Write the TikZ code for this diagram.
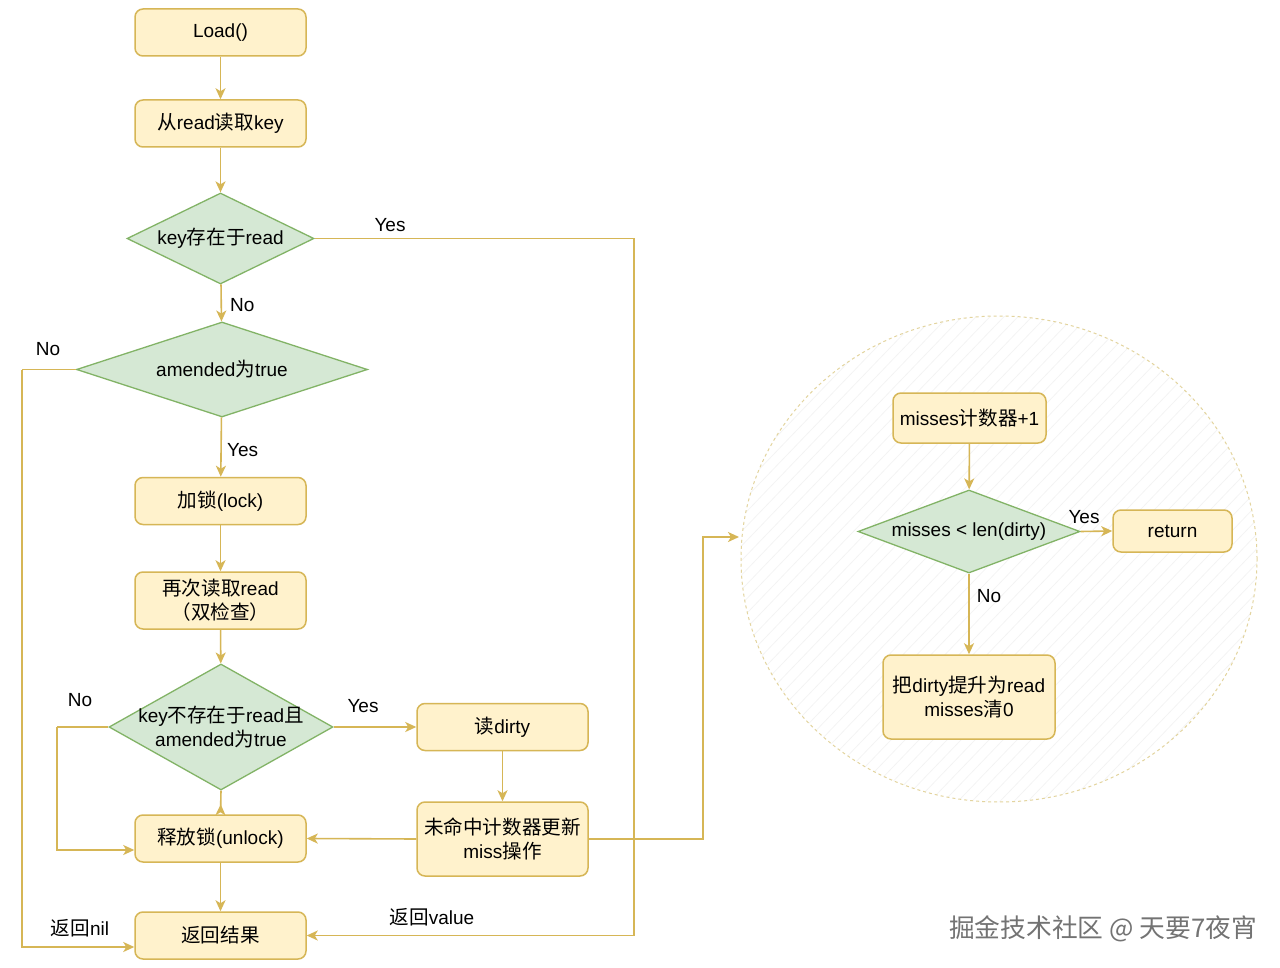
\documentclass[tikz,border=0pt]{standalone}
\usepackage{fontspec}
\setmainfont{Liberation Sans}
\newfontfamily\cjkf{Noto Sans CJK SC}[Scale=1.03]
\newcommand\C[1]{{\cjkf #1}}
\usetikzlibrary{arrows.meta,shapes.geometric}
\definecolor{boxfill}{HTML}{FFF2CC}
\definecolor{boxline}{HTML}{D6B656}
\definecolor{dfill}{HTML}{D5E8D4}
\definecolor{dline}{HTML}{82B366}
\definecolor{edgec}{HTML}{D6B656}
\definecolor{circline}{HTML}{E3D49E}
\begin{document}
\begin{tikzpicture}[x=1pt,y=-1pt,
  font=\fontsize{19}{24}\selectfont,
  box/.style={draw=boxline, fill=boxfill, line width=1.5pt, rounded corners=8pt,
    minimum width=171pt, minimum height=47pt, inner sep=0pt, align=center},
  dia/.style={draw=dline, fill=dfill, line width=1.3pt, diamond, inner sep=0pt, aspect=1},
  edge/.style={draw=edgec, line width=1.6pt, -{Stealth[length=11pt,width=10pt,inset=3pt]}},
  plain/.style={draw=edgec, line width=1.6pt},
  lbl/.style={inner sep=1pt, text=black}
]
\useasboundingbox (0,0) rectangle (1280,968);
\fill[white] (0,0) rectangle (1280,968);

% dashed circle with faint hatching
\begin{scope}
  \clip (999,559) ellipse [x radius=258, y radius=243];
  \foreach \i in {0,14,...,1100} {
    \draw[black!5, line width=0.6pt] (100+\i,820) -- (600+\i,300);
  }
\end{scope}
\node[ellipse, draw=circline, dashed, line width=1pt, minimum width=516pt, minimum height=486pt] (circ) at (999,559) {};

% main column
\node[box] (load) at (220.5,32.5) {Load()};
\node[box] (rd) at (220.5,123.5) {\C{从}read\C{读取}key};
\node[dia, minimum width=187pt, minimum height=91pt,
  label={center:{key\C{存在于}read}}] (d1) at (220.5,238.5) {};
\node[dia, minimum width=291pt, minimum height=95pt,
  label={center:{amended\C{为}true}}] (d2) at (222,369.5) {};
\node[box] (lock) at (220.5,501) {\C{加锁}(lock)};
\node[box, minimum height=57pt] (reread) at (220.5,600.5) {\C{再次读取}read\\\C{（双检查）}};
\node[dia, minimum width=224pt, minimum height=126pt,
  label={[align=center]center:{key\C{不存在于}read\C{且}\\amended\C{为}true}}] (d3) at (221,727) {};
\node[box] (dirty) at (502.5,727) {\C{读}dirty};
\node[box, minimum height=74pt] (miss) at (502.5,839) {\C{未命中计数器更新}\\miss\C{操作}};
\node[box] (unlock) at (220.5,838.5) {\C{释放锁}(unlock)};
\node[box] (res) at (220.5,935.5) {\C{返回结果}};

% circle content
\node[box, minimum width=153pt, minimum height=50pt] (m1) at (969.5,418) {misses\C{计数器}+1};
\node[dia, minimum width=222pt, minimum height=83pt,
  label={center:{misses < len(dirty)}}] (dm) at (969,531.5) {};
\node[box, minimum width=119pt, minimum height=42pt] (ret) at (1172.5,531) {return};
\node[box, minimum width=172pt, minimum height=84pt] (prom) at (969,697) {\C{把}dirty\C{提升为}read\\misses\C{清}0};

% coordinates for bends
\coordinate (c1) at (634,238.5);
\coordinate (c2) at (22,369.5);
\coordinate (c3) at (57,727);
\coordinate (c4) at (703,839);
\coordinate (c5) at (703,537);
\coordinate (c6) at (739,537);

% edges
\draw[edge] (load) -- (rd);
\draw[edge] (rd) -- (d1);
\draw[edge] (d1) -- (d2);
\node[lbl, anchor=west] at (229,305) {No};
\draw[plain] (d1.east) -- (c1);
\draw[edge] (c1) |- (res.east);
\node[lbl] at (390,225) {Yes};
\node[lbl] at (432,917) {\C{返回}value};
\draw[plain] (d2.west) -- (c2);
\draw[edge] (c2) |- ([yshift=-11.5pt]res.west);
\node[lbl] at (48,349) {No};
\node[lbl] at (80,928) {\C{返回}nil};
\draw[edge] (d2) -- (lock);
\node[lbl, anchor=west] at (226,450) {Yes};
\draw[edge] (lock) -- (reread);
\draw[edge] (reread) -- (d3);
\draw[edge] (d3.east) -- (dirty.west);
\node[lbl] at (363,706) {Yes};
\draw[plain] (d3.west) -- (c3);
\draw[edge] (c3) |- ([yshift=-11.5pt]unlock.west);
\node[lbl] at (80,700) {No};
\draw[plain, -{Stealth[length=11pt,width=10pt,inset=3pt,reversed]}] (d3.south) -- ([yshift=-1pt]unlock.north);
\draw[edge] (dirty) -- (miss);
\draw[edge] (miss.west) -- (unlock.east);
\draw[edge] (miss.east) -- (c4) -- (c5) -- (c6);
\draw[edge] (unlock) -- (res);

\draw[edge] (m1) -- (dm);
\draw[edge] (dm.east) -- (ret.west);
\node[lbl] at (1084,517) {Yes};
\draw[edge] (dm) -- (prom);
\node[lbl] at (989,596) {No};

% watermark
\node[text=black!55, font=\cjkf\fontsize{25}{28}\selectfont] (wm) at (1103,929) {掘金技术社区 @ 天要7夜宵};
\end{tikzpicture}
\end{document}
